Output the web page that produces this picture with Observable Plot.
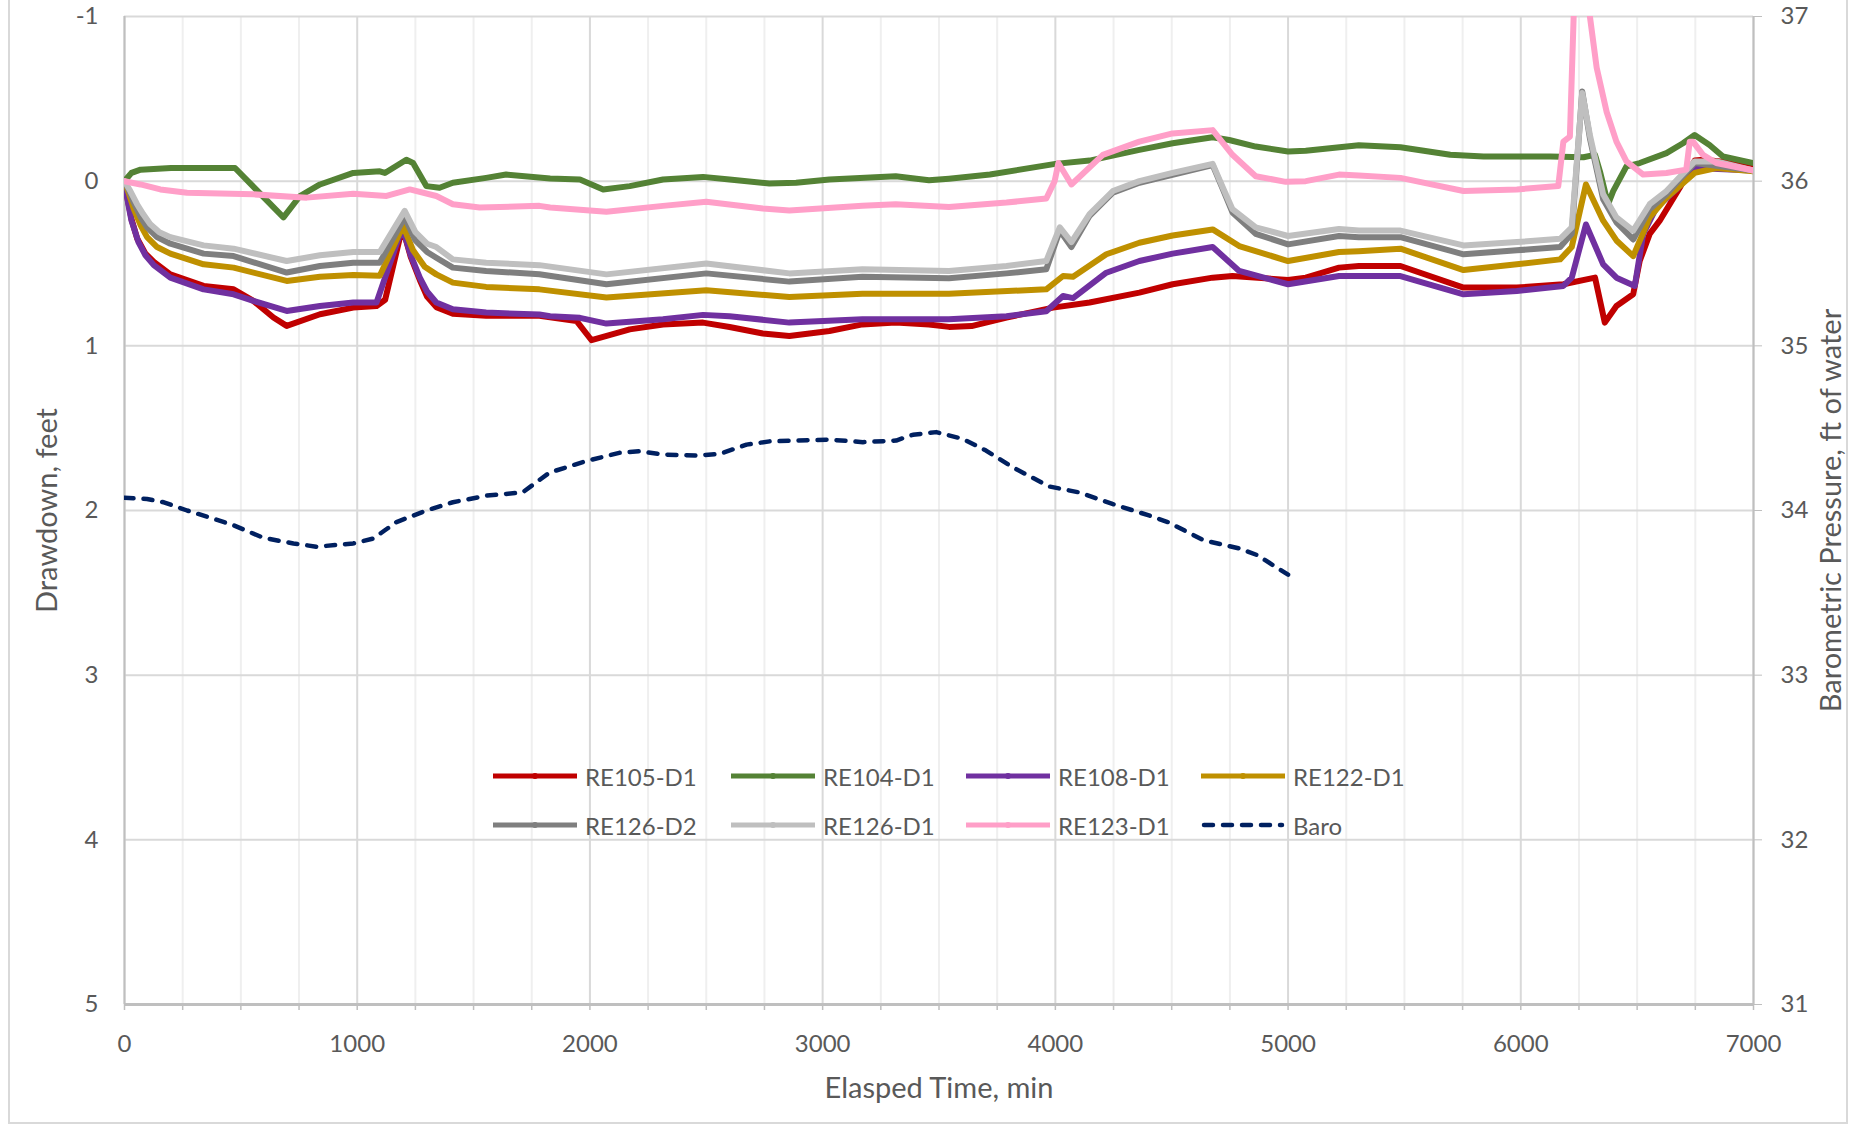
<!DOCTYPE html>
<html>
<head>
<meta charset="utf-8">
<script src="https://cdn.jsdelivr.net/npm/d3@7"></script>
<script src="https://cdn.jsdelivr.net/npm/@observablehq/plot@0.6"></script>
<style>
html, body { margin: 0; padding: 0; background: #fff; overflow: hidden; }
#wrap { position: relative; width: 1858px; height: 1125px; font-family: Lato, sans-serif; }
#border { position: absolute; left: 8px; top: -5px; width: 1840px; height: 1129px; border: 2px solid #d9d9d9; box-sizing: border-box; pointer-events: none; }
#legend .item { position: absolute; display: flex; align-items: center; height: 40px; font-size: 24px; color: #595959; white-space: nowrap; font-family: Lato, sans-serif; }
#legend svg { margin-right: 8px; }
g[aria-label="x-axis label"], g[aria-label="y-axis label"] { font-size: 29px; }
</style>
</head>
<body>
<div id="wrap"><div id="chart"></div><div id="legend"></div><div id="border"></div></div>
<script>
// ---------- data (elapsed time in min, drawdown in ft) ----------
const seriesNames = ["RE105-D1", "RE104-D1", "RE108-D1", "RE122-D1", "RE126-D2", "RE126-D1", "RE123-D1", "Baro"];

const re105d1 = [[0,0],[15,0.12],[30,0.23],[55,0.35],[90,0.44],[126,0.49],[197,0.566],[340,0.636],[469,0.657],[554,0.727],[640,0.828],[697,0.879],[840,0.808],[983,0.768],[1083,0.758],[1120,0.72],[1194,0.28],[1230,0.46],[1269,0.6],[1300,0.7],[1340,0.765],[1411,0.805],[1554,0.818],[1783,0.818],[1943,0.85],[2007,0.966],[2171,0.9],[2314,0.87],[2486,0.859],[2600,0.886],[2743,0.925],[2857,0.94],[3029,0.91],[3171,0.87],[3314,0.859],[3457,0.87],[3543,0.885],[3640,0.88],[3790,0.828],[3990,0.768],[4147,0.737],[4361,0.677],[4504,0.626],[4676,0.586],[4761,0.576],[5000,0.60],[5076,0.586],[5219,0.525],[5304,0.515],[5483,0.515],[5754,0.646],[5983,0.646],[6183,0.626],[6319,0.586],[6361,0.859],[6411,0.758],[6483,0.687],[6511,0.485],[6554,0.32],[6597,0.24],[6683,0.04],[6747,-0.125],[6783,-0.13],[7000,-0.10]];

const re104d1 = [[0,0],[30,-0.05],[69,-0.07],[200,-0.08],[475,-0.08],[683,0.22],[754,0.09],[840,0.02],[983,-0.05],[1097,-0.06],[1119,-0.05],[1211,-0.13],[1240,-0.11],[1297,0.03],[1354,0.04],[1411,0.01],[1554,-0.02],[1640,-0.04],[1829,-0.016],[1957,-0.01],[2057,0.05],[2171,0.03],[2314,-0.01],[2486,-0.026],[2600,-0.01],[2771,0.014],[2886,0.01],[3029,-0.01],[3314,-0.03],[3457,-0.005],[3543,-0.015],[3719,-0.04],[4000,-0.105],[4147,-0.125],[4361,-0.19],[4504,-0.23],[4676,-0.267],[4747,-0.25],[4861,-0.21],[5000,-0.18],[5076,-0.185],[5304,-0.218],[5483,-0.206],[5697,-0.16],[5840,-0.15],[6126,-0.15],[6269,-0.145],[6319,-0.16],[6340,-0.06],[6375,0.14],[6397,0.06],[6454,-0.09],[6511,-0.11],[6626,-0.17],[6697,-0.23],[6747,-0.28],[6811,-0.22],[6869,-0.15],[7000,-0.11]];

const re108d1 = [[0,0],[15,0.13],[30,0.24],[60,0.37],[90,0.45],[126,0.51],[197,0.586],[340,0.657],[469,0.687],[554,0.727],[697,0.788],[840,0.758],[983,0.737],[1083,0.737],[1194,0.28],[1230,0.45],[1269,0.586],[1300,0.67],[1340,0.737],[1411,0.778],[1554,0.798],[1783,0.81],[1829,0.82],[1957,0.83],[2071,0.865],[2314,0.838],[2486,0.812],[2600,0.82],[2857,0.859],[3171,0.838],[3543,0.838],[3790,0.82],[3961,0.79],[4033,0.697],[4076,0.71],[4219,0.556],[4361,0.485],[4504,0.44],[4676,0.40],[4790,0.545],[5000,0.626],[5219,0.576],[5483,0.576],[5754,0.687],[5983,0.667],[6183,0.636],[6219,0.586],[6280,0.263],[6354,0.505],[6411,0.586],[6490,0.636],[6526,0.32],[6583,0.16],[6669,0.05],[6747,-0.08],[7000,-0.065]];

const re122d1 = [[0,0],[20,0.08],[40,0.17],[70,0.27],[97,0.34],[140,0.40],[197,0.44],[340,0.505],[469,0.525],[697,0.606],[840,0.58],[983,0.57],[1097,0.575],[1197,0.27],[1240,0.42],[1290,0.52],[1340,0.566],[1411,0.616],[1554,0.642],[1783,0.657],[2071,0.707],[2500,0.663],[2857,0.703],[3171,0.683],[3543,0.683],[3961,0.657],[4033,0.576],[4076,0.58],[4219,0.444],[4361,0.374],[4504,0.33],[4676,0.293],[4790,0.394],[5000,0.485],[5219,0.43],[5304,0.425],[5483,0.41],[5754,0.54],[5983,0.505],[6169,0.475],[6219,0.40],[6280,0.02],[6354,0.24],[6411,0.36],[6483,0.455],[6554,0.22],[6626,0.10],[6747,-0.05],[6840,-0.08],[7000,-0.06]];

const re126d2 = [[0,0],[20,0.06],[40,0.13],[70,0.22],[97,0.28],[140,0.34],[197,0.38],[340,0.44],[469,0.455],[697,0.555],[840,0.515],[983,0.495],[1097,0.495],[1204,0.22],[1250,0.36],[1300,0.43],[1340,0.465],[1411,0.525],[1554,0.545],[1783,0.565],[2071,0.626],[2500,0.56],[2857,0.61],[3171,0.58],[3543,0.59],[3790,0.56],[3961,0.535],[4019,0.30],[4069,0.40],[4147,0.21],[4247,0.07],[4361,0.01],[4676,-0.097],[4720,0.05],[4761,0.19],[4861,0.32],[5000,0.384],[5219,0.333],[5304,0.34],[5483,0.34],[5754,0.444],[5983,0.42],[6169,0.40],[6219,0.32],[6264,-0.545],[6297,-0.26],[6354,0.11],[6411,0.25],[6483,0.354],[6554,0.17],[6626,0.08],[6747,-0.11],[7000,-0.065]];

const re126d1 = [[0,0],[25,0.06],[54,0.14],[80,0.2],[110,0.26],[150,0.31],[197,0.34],[340,0.39],[469,0.41],[697,0.485],[840,0.45],[983,0.43],[1097,0.43],[1204,0.18],[1250,0.31],[1300,0.38],[1340,0.40],[1411,0.475],[1554,0.495],[1783,0.51],[2071,0.566],[2500,0.50],[2857,0.56],[3171,0.535],[3543,0.545],[3790,0.515],[3961,0.485],[4019,0.28],[4069,0.37],[4147,0.20],[4247,0.06],[4361,0.0],[4504,-0.05],[4676,-0.105],[4720,0.04],[4761,0.17],[4861,0.28],[5000,0.333],[5219,0.29],[5304,0.30],[5483,0.30],[5754,0.39],[5983,0.37],[6169,0.35],[6219,0.28],[6264,-0.535],[6297,-0.28],[6354,0.08],[6411,0.22],[6483,0.30],[6554,0.14],[6626,0.06],[6747,-0.12],[6840,-0.12],[7000,-0.065]];

const re123d1 = [[0,0],[69,0.02],[154,0.05],[269,0.07],[554,0.08],[783,0.10],[983,0.077],[1126,0.09],[1226,0.05],[1340,0.09],[1411,0.14],[1526,0.16],[1783,0.15],[1829,0.16],[2071,0.186],[2314,0.15],[2500,0.125],[2743,0.166],[2857,0.178],[3171,0.15],[3314,0.14],[3543,0.157],[3790,0.13],[3961,0.105],[3997,0.0],[4013,-0.11],[4069,0.02],[4204,-0.16],[4361,-0.24],[4504,-0.29],[4676,-0.31],[4761,-0.16],[4861,-0.03],[4990,0.004],[5076,0.0],[5219,-0.04],[5304,-0.035],[5483,-0.02],[5754,0.06],[5983,0.05],[6161,0.03],[6183,-0.24],[6211,-0.27],[6245,-1.8],[6297,-1.0],[6326,-0.69],[6369,-0.42],[6411,-0.24],[6454,-0.12],[6526,-0.04],[6626,-0.05],[6711,-0.07],[6726,-0.24],[6740,-0.24],[6783,-0.16],[6840,-0.11],[7000,-0.065]];

// barometric pressure, ft of water (secondary axis)
const baroP = [[0,34.077],[97,34.07],[169,34.05],[269,34.0],[383,33.95],[469,33.91],[597,33.834],[726,33.80],[826,33.78],[983,33.80],[1069,33.83],[1169,33.93],[1297,34.0],[1411,34.05],[1554,34.09],[1711,34.11],[1826,34.23],[1983,34.30],[2126,34.35],[2211,34.36],[2316,34.34],[2459,34.334],[2559,34.344],[2673,34.40],[2773,34.42],[3031,34.43],[3173,34.415],[3316,34.425],[3388,34.46],[3488,34.476],[3602,34.435],[3702,34.364],[3816,34.263],[3973,34.146],[4102,34.11],[4245,34.04],[4402,33.97],[4483,33.93],[4636,33.82],[4789,33.77],[4866,33.73],[5000,33.61]];

const xMajorTicks = [0, 1000, 2000, 3000, 4000, 5000, 6000, 7000];
const xMinorTicks = [250, 500, 750, 1250, 1500, 1750, 2250, 2500, 2750, 3250, 3500, 3750, 4250, 4500, 4750, 5250, 5500, 5750, 6250, 6500, 6750];
const yTicks = [-1, 0, 1, 2, 3, 4, 5];
const baroZero = 36; // pressure level aligned with zero drawdown

// ---------- styles ----------
const colors = {
  "RE105-D1": "#C00000", "RE104-D1": "#548235", "RE108-D1": "#7030A0", "RE122-D1": "#BF9000",
  "RE126-D2": "#7F7F7F", "RE126-D1": "#BFBFBF", "RE123-D1": "#FF9FC8", "Baro": "#002060"
};
const seriesData = {
  "RE105-D1": re105d1, "RE104-D1": re104d1, "RE108-D1": re108d1, "RE122-D1": re122d1,
  "RE126-D2": re126d2, "RE126-D1": re126d1, "RE123-D1": re123d1
};

const lineMarks = seriesNames.filter(n => n !== "Baro").map(n =>
  Plot.line(seriesData[n], {x: d => d[0], y: d => d[1], stroke: colors[n], strokeWidth: 6,
    strokeLinejoin: "round", strokeLinecap: "round", clip: true}));

const baroMark = Plot.line(baroP, {x: d => d[0], y: d => baroZero - d[1], stroke: colors["Baro"],
  strokeWidth: 4.5, strokeDasharray: "9,10", strokeLinecap: "round", strokeLinejoin: "round", clip: true});

const chart = Plot.plot({
  width: 1858, height: 1125,
  marginLeft: 124, marginRight: 105, marginTop: 16, marginBottom: 121,
  style: {fontFamily: "Lato, sans-serif", fontSize: "24px", color: "#595959", background: "#fff"},
  x: {domain: [0, 7000]},
  y: {domain: [-1, 5], reverse: true},
  marks: [
    Plot.gridX(xMinorTicks, {stroke: "#efefef", strokeOpacity: 1, strokeWidth: 2}),
    Plot.gridX(xMajorTicks, {stroke: "#d9d9d9", strokeOpacity: 1, strokeWidth: 2}),
    Plot.gridY(yTicks, {stroke: "#d9d9d9", strokeOpacity: 1, strokeWidth: 2}),
    Plot.ruleX([0], {stroke: "#bfbfbf", strokeWidth: 2}),
    Plot.ruleX([7000], {stroke: "#bfbfbf", strokeWidth: 2}),
    Plot.ruleY([5], {stroke: "#bfbfbf", strokeWidth: 3}),
    Plot.axisX(xMajorTicks.concat(xMinorTicks), {tickSize: 6, tickFormat: () => "", stroke: "#bfbfbf", strokeWidth: 1.5, label: null}),
    Plot.axisX(xMajorTicks, {tickSize: 0, tickPadding: 30, tickFormat: d => String(d),
      label: "Elasped Time, min", labelAnchor: "center", labelOffset: 93, labelArrow: false}),
    Plot.axisY(yTicks, {anchor: "left", tickSize: 0, tickPadding: 26, tickFormat: d => String(d),
      label: "Drawdown, feet", labelAnchor: "center", labelOffset: 88, labelArrow: false}),
    Plot.axisY(yTicks, {anchor: "right", tickSize: 8, tickPadding: 19, stroke: "#bfbfbf", tickFormat: d => String(baroZero - d),
      label: "Barometric Pressure, ft of water", labelAnchor: "center", labelOffset: 87, labelArrow: false}),
    ...lineMarks,
    baroMark
  ]
});
document.getElementById("chart").appendChild(chart);

// ---------- legend (inside plot area, HTML overlay) ----------
const legendCols = [493, 731, 966, 1201];
const legendRows = [776, 825];
const legend = document.getElementById("legend");
seriesNames.forEach((n, i) => {
  const item = document.createElement("div");
  item.className = "item";
  item.style.left = legendCols[i % 4] + "px";
  item.style.top = (legendRows[Math.floor(i / 4)] - 20) + "px";
  const isBaro = n === "Baro";
  const sw = isBaro
    ? `<svg width="84" height="20"><line x1="3" y1="10" x2="81" y2="10" stroke="${colors[n]}" stroke-width="4.5" stroke-dasharray="9,10" stroke-linecap="round"/></svg>`
    : `<svg width="84" height="20"><line x1="0" y1="10" x2="84" y2="10" stroke="${colors[n]}" stroke-width="5"/><circle cx="42" cy="10" r="3" fill="${colors[n]}"/></svg>`;
  item.innerHTML = sw + `<span>${n}</span>`;
  legend.appendChild(item);
});
</script>
</body>
</html>
